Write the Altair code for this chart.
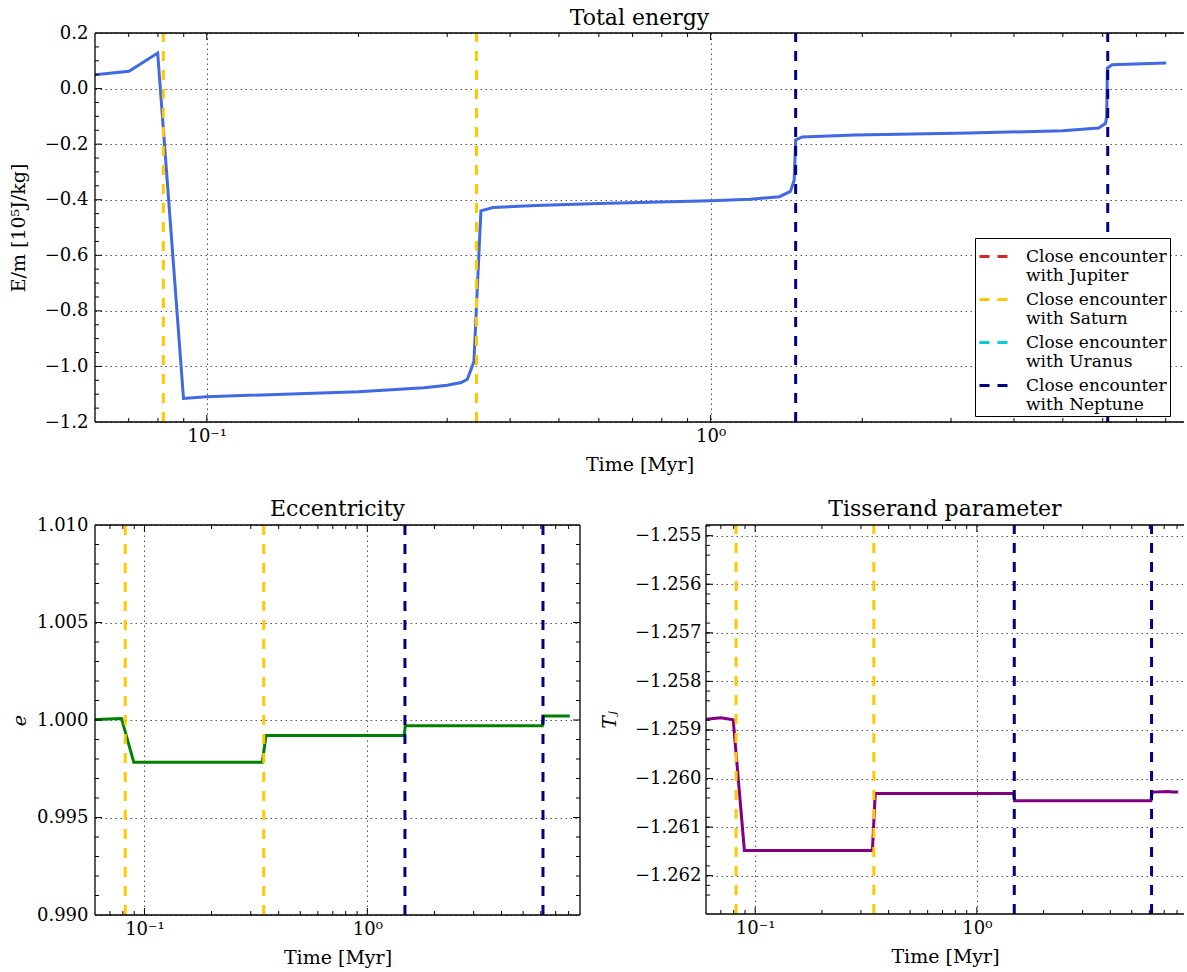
import altair as alt
import pandas as pd

FONT = "DejaVu Serif"

# Specific orbital energy along the integration (time in Myr, E/m in 1e5 J/kg)
energy_time = [0.060, 0.0701, 0.0799, 0.0899, 0.100, 0.200, 0.270, 0.300, 0.320, 0.329,
               0.339, 0.350, 0.370, 0.450, 0.600, 1.000, 1.200, 1.370, 1.440, 1.465,
               1.475, 1.520, 1.940, 3.260, 5.000, 5.890, 6.080, 6.110, 6.130, 6.260, 8.020]
energy_value = [0.050, 0.062, 0.128, -1.115, -1.109, -1.091, -1.077, -1.068, -1.058, -1.046,
                -0.983, -0.440, -0.428, -0.421, -0.414, -0.404, -0.398, -0.389, -0.370, -0.330,
                -0.185, -0.174, -0.167, -0.160, -0.152, -0.142, -0.125, -0.100, 0.074, 0.086, 0.092]

# Eccentricity
ecc_time = [0.060, 0.0789, 0.0896, 0.338, 0.351, 1.465, 1.480, 6.100, 6.160, 8.100]
ecc_value = [1.00003, 1.00008, 0.99783, 0.99783, 0.99920, 0.99920, 0.99971, 0.99971, 1.00020, 1.00020]

# Tisserand parameter with respect to Jupiter
tiss_time = [0.060, 0.0700, 0.0796, 0.0894, 0.338, 0.348, 1.465, 1.480, 6.100, 6.170, 7.300, 7.600, 8.100]
tiss_value = [-1.25878, -1.25875, -1.25879, -1.26148, -1.26148, -1.26031, -1.26031, -1.26046,
              -1.26046, -1.26028, -1.26027, -1.26028, -1.26028]

# Close encounters with the giant planets
enc_time = [0.082, 0.343, 1.475, 6.14]
enc_planet = ["Saturn", "Saturn", "Neptune", "Neptune"]

planets = ["Jupiter", "Saturn", "Uranus", "Neptune"]
planet_colors = ["#d62728", "#ffc800", "#00ced1", "#000080"]

# Axis ticks
x_major = [0.1, 1.0]
x_minor = [0.07, 0.08, 0.09, 0.2, 0.3, 0.4, 0.5, 0.6, 0.7, 0.8, 0.9, 2, 3, 4, 5, 6, 7, 8]
energy_major = [-1.2, -1.0, -0.8, -0.6, -0.4, -0.2, 0.0, 0.2]
energy_minor = [round(-1.2 + 0.05 * i, 3) for i in range(29) if i % 4]
ecc_major = [0.990, 0.995, 1.000, 1.005, 1.010]
ecc_minor = [round(0.990 + 0.001 * i, 4) for i in range(21) if i % 5]
tiss_major = [-1.262, -1.261, -1.260, -1.259, -1.258, -1.257, -1.256, -1.255]
tiss_minor = [round(-1.2628 + 0.0002 * i, 5) for i in range(41) if (i + 4) % 5]

X_LABEL = "datum.value < 0.5 ? '10\u207b\u00b9' : '10\u2070'"
ONE = alt.Data(values=[{"k": 0}])


def panel(times, values, color, xdom, ydom, ymajor, yminor, yfmt, W, H, title, title_offset,
          ytitle, ytitle_x, ylabel_pad, right_frame, legend=None, ytitle_style="normal"):
    xs = alt.Scale(type="log", domain=xdom, nice=False)
    ys = alt.Scale(domain=ydom, nice=False, zero=False)

    df = pd.DataFrame({"t": times, "v": values})
    line = alt.Chart(df).mark_line(color=color, strokeWidth=3, clip=True).encode(
        x=alt.X("t:Q", scale=xs, title="Time [Myr]", axis=alt.Axis(
            values=x_major, labelExpr=X_LABEL, grid=True,
            labelFont=FONT, titleFont=FONT, labelFontSize=18, titleFontSize=19,
            labelPadding=5, titlePadding=10)),
        y=alt.Y("v:Q", scale=ys, title=ytitle, axis=alt.Axis(
            values=ymajor, grid=True,
            labelFont=FONT, titleFont=FONT, labelFontSize=18, titleFontSize=19,
            labelExpr=f"replace(format(datum.value, '{yfmt}'), '-', '\u2212')",
            labelPadding=ylabel_pad, titleX=ytitle_x, titleY=H / 2, titleAngle=-90,
            titleAlign="center", titleBaseline="middle", titleFontStyle=ytitle_style)),
    )

    # dashed markers for the close encounters, drawn bottom-up
    enc_df = pd.DataFrame({"t": enc_time, "planet": enc_planet})
    if legend is None:
        color_enc = alt.Color("planet:N", scale=alt.Scale(domain=planets, range=planet_colors),
                              legend=None)
    else:
        color_enc = alt.Color("planet:N", scale=alt.Scale(domain=planets, range=planet_colors),
                              legend=legend)
    rules = alt.Chart(enc_df).mark_rule(strokeWidth=3, strokeDash=[10, 9]).encode(
        x=alt.X("t:Q", scale=xs, title="Time [Myr]"), y=alt.value(H), y2=alt.value(0),
        color=color_enc)

    # inward major/minor ticks
    def xt(vals, y0, y1):
        d = pd.DataFrame({"t": [v for v in vals if xdom[0] < v < xdom[1]]})
        return alt.Chart(d).mark_rule(color="black", strokeWidth=1).encode(
            x=alt.X("t:Q", scale=xs, title="Time [Myr]"), y=alt.value(y0), y2=alt.value(y1))

    def yt(vals, x0, x1):
        d = pd.DataFrame({"v": [v for v in vals if ydom[0] < v < ydom[1]]})
        return alt.Chart(d).mark_rule(color="black", strokeWidth=1).encode(
            y=alt.Y("v:Q", scale=ys, title=ytitle), x=alt.value(x0), x2=alt.value(x1))

    ticks = [xt(x_major, H, H - 7), xt(x_minor, H, H - 4), xt(x_major, 0, 7), xt(x_minor, 0, 4),
             yt(ymajor, 0, 7), yt(yminor, 0, 4)]
    if right_frame:
        ticks += [yt(ymajor, W, W - 7), yt(yminor, W, W - 4)]

    # plot frame
    def edge(**enc):
        return alt.Chart(ONE).mark_rule(color="black", strokeWidth=1.3).encode(**enc)

    frame = [edge(x=alt.value(0), x2=alt.value(W), y=alt.value(0)),
             edge(x=alt.value(0), x2=alt.value(W), y=alt.value(H)),
             edge(x=alt.value(0), y=alt.value(0), y2=alt.value(H))]
    if right_frame:
        frame.append(edge(x=alt.value(W), y=alt.value(0), y2=alt.value(H)))

    return alt.layer(line, rules, *ticks, *frame).properties(
        width=W, height=H,
        title=alt.Title(title, font=FONT, fontSize=22, fontWeight="normal",
                        anchor="middle", offset=title_offset, color="black"),
    ).resolve_scale(color="independent")


legend = alt.Legend(
    title=None, orient="none", legendX=880, legendY=205, direction="vertical",
    symbolType="stroke", symbolSize=784, symbolStrokeWidth=3, symbolDash=[10, 8],
    labelExpr="['Close encounter', 'with ' + datum.label]",
    labelFont=FONT, labelFontSize=17, labelColor="black", labelLimit=400,
    labelOffset=17, rowPadding=0, padding=3,
    strokeColor="black", fillColor="white", cornerRadius=0,
)

energy_chart = panel(energy_time, energy_value, "#4169e1", [0.06, 8.7], [-1.2, 0.2],
                     energy_major, energy_minor, ".1f", 1089, 389, "Total energy", -6,
                     "E/m [10\u2075J/kg]", -77, 7, False, legend=legend)

ecc_chart = panel(ecc_time, ecc_value, "#008000", [0.06, 9.0], [0.990, 1.010],
                  ecc_major, ecc_minor, ".3f", 485, 390, "Eccentricity", -5,
                  "e", -76, 7, True, ytitle_style="italic")

tiss_chart = panel(tiss_time, tiss_value, "#800080", [0.06, 8.6], [-1.26279, -1.25478],
                   tiss_major, tiss_minor, ".3f", 478, 389, "Tisserand parameter", 3,
                   "T\u2c7c", -97, 5, False, ytitle_style="italic")

bottom = alt.hconcat(ecc_chart, tiss_chart, spacing=126, bounds="flush").resolve_scale(
    color="independent")

chart = alt.vconcat(energy_chart, bottom, spacing=103, bounds="flush").resolve_scale(
    color="independent"
).properties(
    padding={"left": 9, "top": 7, "right": 1, "bottom": 2},
).configure_view(
    stroke=None,
).configure_axis(
    labelFont=FONT, titleFont=FONT, labelFontSize=18, titleFontSize=19,
    titleFontWeight="normal", labelColor="black", titleColor="black",
    domain=False, ticks=False, tickSize=0,
    gridColor="#555555", gridDash=[1.5, 3.5], gridWidth=1, gridOpacity=1,
)

chart.save("out.html", embed_options={"renderer": "svg", "actions": False})
